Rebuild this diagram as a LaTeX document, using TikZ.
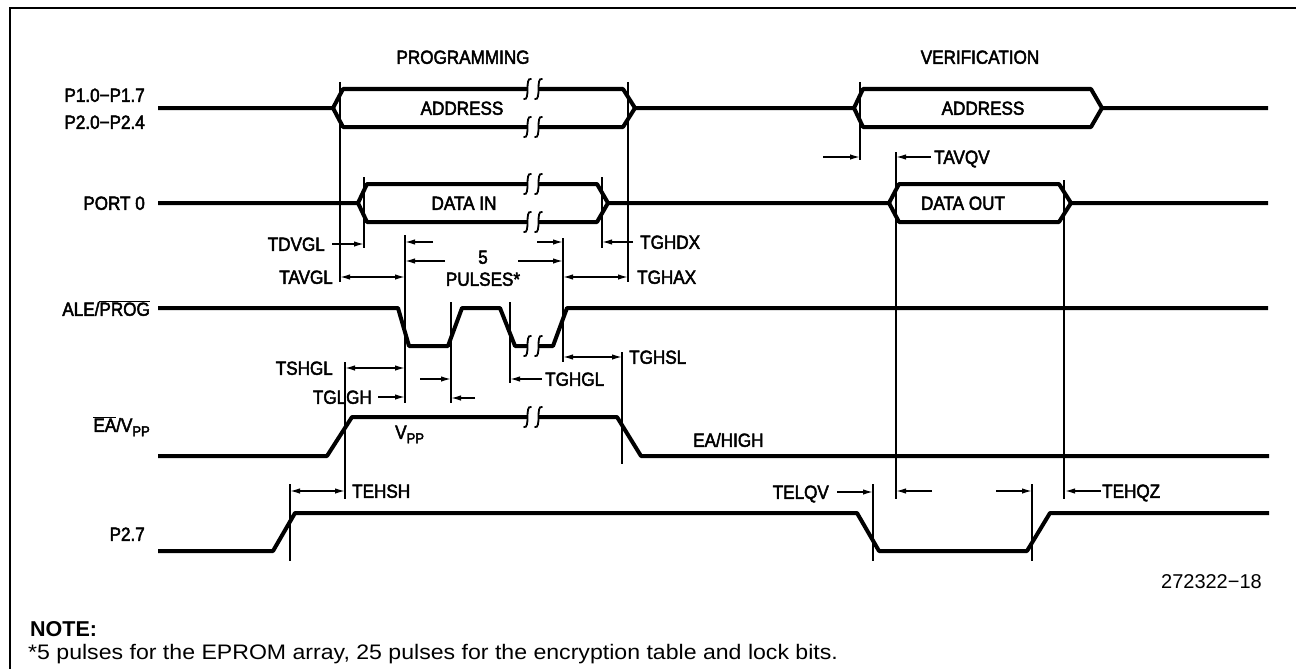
\documentclass[tikz,border=0pt]{standalone}
\usepackage{fontspec}
\setmainfont{Liberation Sans}
\newfontfamily\notefont[FakeStretch=1.10]{Liberation Sans}
\newfontfamily\lblfont[FakeStretch=0.9,FakeBold=2.5]{Liberation Sans}
\usetikzlibrary{arrows.meta}
\tikzset{
  sig/.style={line width=4pt, line join=round},
  vthin/.style={line width=1.5pt},
  arr/.style={line width=1.5pt, -{Latex[length=10pt,width=5.5pt]}},
  darr/.style={line width=1.5pt, {Latex[length=10pt,width=5.5pt]}-{Latex[length=10pt,width=5.5pt]}},
  lbl/.style={font=\lblfont\fontsize{19}{22}\selectfont, inner sep=0pt, text height=13.6pt, text depth=0pt},
}
\newcommand\sqbrk[2]{%
  \fill[white] ({#1-5},{#2-3}) rectangle ({#1+5},{#2+3});
  \foreach \dx in {-5.5,5.5} {\draw[line width=1.8pt, line cap=round] ({#1+\dx+3.5},{#2-10}) .. controls ({#1+\dx+0.5},{#2-11}) and ({#1+\dx},{#2-6}) .. ({#1+\dx},{#2}) .. controls ({#1+\dx},{#2+6}) and ({#1+\dx-0.5},{#2+11}) .. ({#1+\dx-3.5},{#2+10});}
}
\newcommand\subPP{\raisebox{-4.5pt}{\fontsize{14.5}{15}\selectfont PP}}
\begin{document}
\begin{tikzpicture}[x=1pt,y=-1pt]
\useasboundingbox (0,0) rectangle (1296,669);
\draw[vthin] (10,669) -- (10,8) -- (1296,8);

% headings
\node[lbl] (hprog) at (463,57) {PROGRAMMING};
\node[lbl] (hver) at (980,57) {VERIFICATION};

% signal names
\node[lbl,anchor=east] (p1) at (145,95) {P1.0−P1.7};
\node[lbl,anchor=east] (p2) at (145,122) {P2.0−P2.4};
\node[lbl,anchor=east] (port0) at (145,203) {PORT 0};
\node[lbl,anchor=east] (ale) at (150,309) {ALE/$\overline{\mbox{PROG}}$};
\node[lbl,anchor=east] (ea) at (150,425) {$\overline{\mbox{EA}}$/V\subPP};
\node[lbl,anchor=east] (p27) at (145,534) {P2.7};

% address bus
\draw[sig] (158,108) -- (333,108) -- (343,89) -- (623,89) -- (635,108) -- (854,108) -- (863,89) -- (1091,89) -- (1102,108) -- (1268,108);
\draw[sig] (333,108) -- (343,127) -- (623,127) -- (635,108);
\draw[sig] (854,108) -- (863,127) -- (1091,127) -- (1102,108);
\sqbrk{533}{89}
\sqbrk{533}{127}
\node[lbl] (addr1) at (462,108) {ADDRESS};
\node[lbl] (addr2) at (983,108) {ADDRESS};

% port 0
\draw[sig] (158,203) -- (358,203) -- (367,184) -- (597,184) -- (608,203) -- (889,203) -- (899,184) -- (1059,184) -- (1071,203) -- (1268,203);
\draw[sig] (358,203) -- (367,222) -- (597,222) -- (608,203);
\draw[sig] (889,203) -- (899,222) -- (1059,222) -- (1071,203);
\sqbrk{533}{184}
\sqbrk{533}{222}
\node[lbl] (din) at (464,203) {DATA IN};
\node[lbl] (dout) at (963,203) {DATA OUT};

% ALE/PROG
\draw[sig] (158,308) -- (398,308) -- (409,346) -- (448,346) -- (462,308) -- (500,308) -- (515,346) -- (553,346) -- (567,308) -- (1268,308);
\sqbrk{533}{346}

% EA/VPP
\draw[sig] (158,456) -- (327,456) -- (352,417) -- (617,417) -- (641,456) -- (1269,456);
\sqbrk{533}{417}
\node[lbl,anchor=west] (vpp) at (395,432) {V\subPP};
\node[lbl,anchor=west] (eahigh) at (693,440) {EA/HIGH};

% P2.7
\draw[sig] (158,551) -- (273,551) -- (295,513) -- (857,513) -- (879,551) -- (1027,551) -- (1050,513) -- (1269,513);

% vertical reference lines
\draw[vthin] (340,82) -- (340,282);
\draw[vthin] (364,177) -- (364,248);
\draw[vthin] (628,82) -- (628,282);
\draw[vthin] (602,177) -- (602,248);
\draw[vthin] (405,235) -- (405,403);
\draw[vthin] (451,302) -- (451,403);
\draw[vthin] (510,302) -- (510,383);
\draw[vthin] (563,238) -- (563,362);
\draw[vthin] (345,362) -- (345,499);
\draw[vthin] (622,352) -- (622,464);
\draw[vthin] (290,484) -- (290,561);
\draw[vthin] (860,82) -- (860,160);
\draw[vthin] (896,152) -- (896,499);
\draw[vthin] (1064,180) -- (1064,499);
\draw[vthin] (873,484) -- (873,561);
\draw[vthin] (1032,484) -- (1032,561);

% timing arrows
\draw[arr] (332,244) -- (364,244);
\draw[darr] (340,277) -- (405,277);
\draw[arr] (433,242) -- (405,242);
\draw[arr] (537,242) -- (563,242);
\draw[arr] (445,261) -- (405,261);
\draw[arr] (518,261) -- (563,261);
\draw[arr] (633,242) -- (602,242);
\draw[darr] (563,277) -- (628,277);
\draw[darr] (345,368) -- (405,368);
\draw[arr] (378,397) -- (405,397);
\draw[arr] (420,379) -- (451,379);
\draw[arr] (475,398) -- (451,398);
\draw[arr] (542,379) -- (510,379);
\draw[darr] (563,357) -- (622,357);
\draw[arr] (823,157) -- (860,157);
\draw[arr] (931,157) -- (896,157);
\draw[darr] (290,491) -- (345,491);
\draw[arr] (837,492) -- (873,492);
\draw[arr] (932,491) -- (896,491);
\draw[arr] (996,491) -- (1032,491);
\draw[arr] (1101,491) -- (1065,491);

% timing labels
\node[lbl,anchor=east] (tdvgl) at (325,244) {TDVGL};
\node[lbl,anchor=east] (tavgl) at (333,277) {TAVGL};
\node[lbl] (five) at (483,257) {5};
\node[lbl] (pulses) at (483,279) {PULSES*};
\node[lbl,anchor=west] (tghdx) at (640,242) {TGHDX};
\node[lbl,anchor=west] (tghax) at (637,277) {TGHAX};
\node[lbl,anchor=east] (tshgl) at (333,368) {TSHGL};
\node[lbl,anchor=east] (tglgh) at (372,397) {TGLGH};
\node[lbl,anchor=west] (tghgl) at (545,379) {TGHGL};
\node[lbl,anchor=west] (tghsl) at (629,357) {TGHSL};
\node[lbl,anchor=west] (tavqv) at (934,157) {TAVQV};
\node[lbl,anchor=west] (tehsh) at (352,491) {TEHSH};
\node[lbl,anchor=east] (telqv) at (829,492) {TELQV};
\node[lbl,anchor=west] (tehqz) at (1102,491) {TEHQZ};

% figure number and note
\node[anchor=base east, inner sep=0pt, font=\fontsize{20}{24}\selectfont] (fignum) at (1262,588) {272322−18};
\node[anchor=base west, inner sep=0pt, font=\fontsize{21.5}{24}\selectfont\bfseries] (note) at (30,636) {NOTE:};
\node[anchor=base west, inner sep=0pt, font=\fontsize{21}{24}\selectfont\notefont] (notetext) at (28,659) {*5 pulses for the EPROM array, 25 pulses for the encryption table and lock bits.};
\end{tikzpicture}
\end{document}
